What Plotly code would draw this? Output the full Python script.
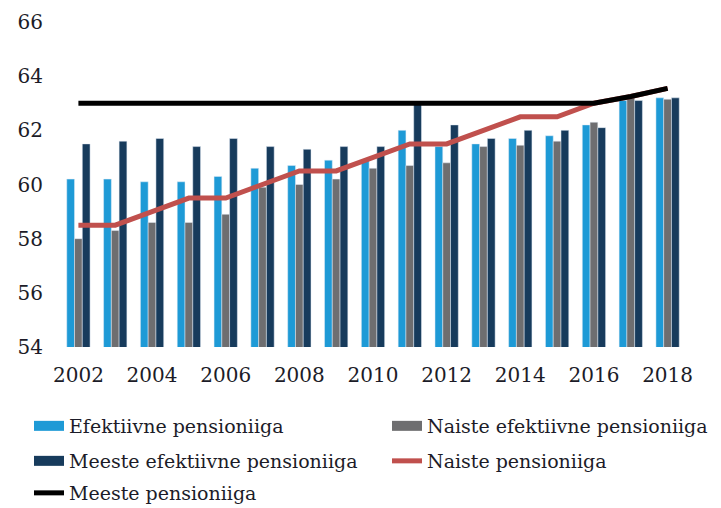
import plotly.graph_objects as go

years = [str(y) for y in range(2002, 2019)]
tick_years = [str(y) for y in range(2002, 2019, 2)]

efektiivne = [60.2, 60.2, 60.1, 60.1, 60.3, 60.6, 60.7, 60.9, 60.9, 62.0, 61.4, 61.5, 61.7, 61.8, 62.2, 63.1, 63.2]
naiste_efektiivne = [58.0, 58.3, 58.6, 58.6, 58.9, 59.9, 60.0, 60.2, 60.6, 60.7, 60.8, 61.4, 61.45, 61.6, 62.3, 63.2, 63.15]
meeste_efektiivne = [61.5, 61.6, 61.7, 61.4, 61.7, 61.4, 61.3, 61.4, 61.4, 63.0, 62.2, 61.7, 62.0, 62.0, 62.1, 63.1, 63.2]
naiste_pensioniiga = [58.5, 58.5, 59.0, 59.5, 59.5, 60.0, 60.5, 60.5, 61.0, 61.5, 61.5, 62.0, 62.5, 62.5, 63.0, 63.25, 63.55]
meeste_pensioniiga = [63.0, 63.0, 63.0, 63.0, 63.0, 63.0, 63.0, 63.0, 63.0, 63.0, 63.0, 63.0, 63.0, 63.0, 63.0, 63.25, 63.55]

C_LIGHT = "#1E9AD6"
C_GRAY = "#6E6E70"
C_DARK = "#173B5C"
C_RED = "#C0504D"
C_BLACK = "#000000"

FONT = "DejaVu Serif"
TXT = "#1c1c28"

W, H = 713, 500  # page adds an 8px body margin top/left of the figure

fig = go.Figure()
fig.add_trace(go.Bar(x=years, y=efektiivne, marker_color=C_LIGHT, showlegend=False))
fig.add_trace(go.Bar(x=years, y=naiste_efektiivne, marker_color=C_GRAY, showlegend=False))
fig.add_trace(go.Bar(x=years, y=meeste_efektiivne, marker_color=C_DARK, showlegend=False))

fig.add_trace(go.Scatter(x=years, y=naiste_pensioniiga, mode="lines",
                         line=dict(color=C_RED, width=5), showlegend=False))
fig.add_trace(go.Scatter(x=years, y=meeste_pensioniiga, mode="lines",
                         line=dict(color=C_BLACK, width=5), showlegend=False))

# legend entries: (name, colour, symbol thickness, legend id, column, row)
legend_items = [
    ("Efektiivne pensioniiga", C_LIGHT, 10, "legend", 0, 0),
    ("Naiste efektiivne pensioniiga", C_GRAY, 10, "legend2", 1, 0),
    ("Meeste efektiivne pensioniiga", C_DARK, 10, "legend3", 0, 1),
    ("Naiste pensioniiga", C_RED, 5, "legend4", 1, 1),
    ("Meeste pensioniiga", C_BLACK, 5, "legend5", 0, 2),
]
col_x = [21, 379]
row_top = [399, 434, 466]

legends = {}
for name, col, w, lg, c, r in legend_items:
    fig.add_trace(go.Scatter(x=[None], y=[None], mode="lines", name=name,
                             line=dict(color=col, width=w), legend=lg))
    legends[lg] = dict(orientation="h", xref="container", yref="container",
                       x=col_x[c] / W, xanchor="left",
                       y=1 - row_top[r] / H, yanchor="top",
                       font=dict(family=FONT, size=19, color=TXT),
                       bgcolor="rgba(0,0,0,0)", itemwidth=30)

fig.update_layout(
    width=W, height=H,
    margin=dict(l=52, r=35, t=14, b=161, autoexpand=False),
    paper_bgcolor="white", plot_bgcolor="white",
    barmode="group", bargap=0.367, bargroupgap=0,
    font=dict(family=FONT, size=19, color=TXT),
    xaxis=dict(type="category", tickvals=tick_years, ticktext=tick_years,
               showgrid=False, zeroline=False, showline=False, ticks="",
               automargin=False,
               ticklabelstandoff=14, tickfont=dict(family=FONT, size=20, color=TXT)),
    yaxis=dict(range=[54, 66], dtick=2, showgrid=False, zeroline=False,
               showline=False, ticks="", ticklabelstandoff=16, automargin=False,
               tickfont=dict(family=FONT, size=20, color=TXT)),
    **legends,
)

fig.write_html("out.html")
